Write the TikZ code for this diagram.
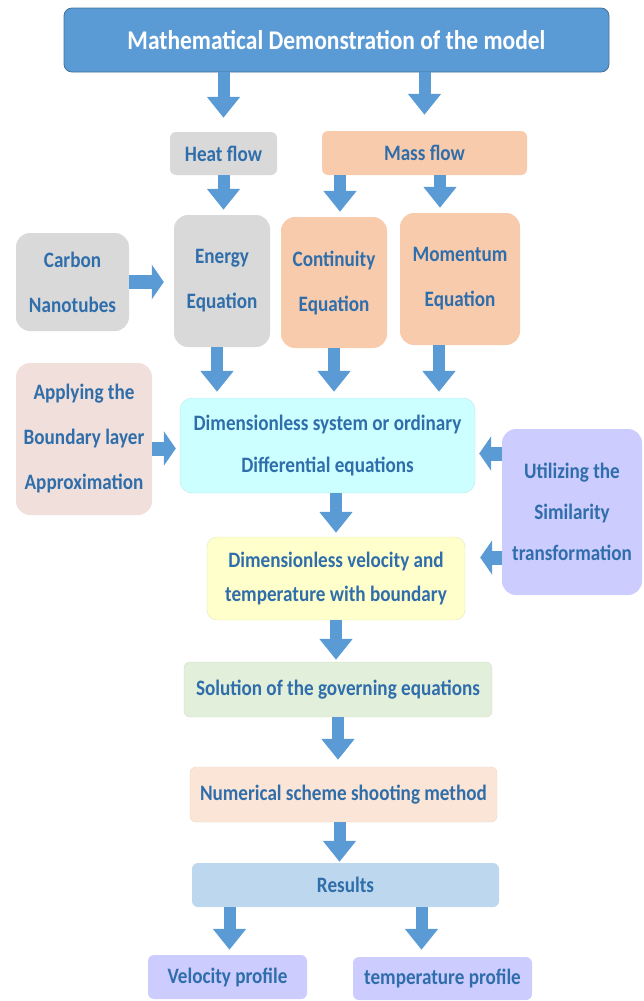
\documentclass[tikz,border=0pt]{standalone}
\usepackage{fontspec}
\setmainfont{Carlito}[FakeStretch=0.87]
\usepackage{tikz,xcolor}
\usetikzlibrary{arrows.meta}
\definecolor{txtblue}{HTML}{2F6EAA}
\definecolor{arrblue}{HTML}{5B9BD5}
\definecolor{topblue}{HTML}{5B9BD5}
\definecolor{topline}{HTML}{41719C}
\definecolor{grey}{HTML}{D9D9D9}
\definecolor{peach}{HTML}{F8CBAD}
\definecolor{rose}{HTML}{F0DFDA}
\definecolor{cyanish}{HTML}{CCFFFF}
\definecolor{lavender}{HTML}{CCCCFF}
\definecolor{lemon}{HTML}{FFFFCC}
\definecolor{mint}{HTML}{E2EFDA}
\definecolor{apricot}{HTML}{FBE5D6}
\definecolor{sky}{HTML}{BDD7EE}
\tikzstyle{box} = [rounded corners=6pt, text=txtblue, align=center, inner sep=0pt,
    font=\bfseries\fontsize{22}{26}\selectfont]
\tikzstyle{tall} = [rounded corners=14pt, font=\bfseries\fontsize{22}{45}\selectfont]
\tikzstyle{dnarrow} = [line width=12pt, arrblue, -{Triangle[width=32pt,length=21pt]}]
\tikzstyle{sdarrow} = [line width=14pt, arrblue, -{Triangle[width=34pt,length=12pt]}]

\begin{document}
\begin{tikzpicture}[x=1pt, y=-1pt]
\useasboundingbox (0,0) rectangle (643,1001);
\node[box, fill=topblue, draw=topline, line width=0.8pt, rounded corners=8pt, text=white,
    font=\bfseries\fontsize{27}{30}\selectfont, minimum width=545pt, minimum height=64pt]
    (title) at (336.5,40) {Mathematical Demonstration of the model};
\node[box, fill=grey, minimum width=107pt, minimum height=43pt] (heat) at (223.5,153.5) {Heat flow};
\node[box, fill=peach, minimum width=205pt, minimum height=44pt] (mass) at (424.5,153) {Mass flow};
\node[box, tall, fill=grey, minimum width=113pt, minimum height=98pt] (carbon) at (72.5,282)
    {Carbon\\Nanotubes};
\node[box, tall, fill=grey, minimum width=96pt, minimum height=132pt] (energy) at (222,281)
    {Energy\\Equation};
\node[box, tall, fill=peach, minimum width=106pt, minimum height=131pt] (cont) at (334,282.5)
    {Continuity\\Equation};
\node[box, tall, fill=peach, minimum width=120pt, minimum height=132pt] (mom) at (460,279)
    {Momentum\\Equation};
\node[box, tall, fill=rose, minimum width=136pt, minimum height=152pt] (apply) at (84,439)
    {Applying the\\Boundary layer\\Approximation};
\node[box, fill=cyanish, draw=cyanish!80!gray, rounded corners=12pt,
    font=\bfseries\fontsize{22}{42}\selectfont, minimum width=295pt, minimum height=95pt]
    (dimsys) at (327.5,445.5) {Dimensionless system or ordinary\\Differential equations};
\node[box, tall, fill=lavender, font=\bfseries\fontsize{22}{41}\selectfont,
    minimum width=140pt, minimum height=166pt] (util) at (572,512)
    {Utilizing the\\Similarity\\transformation};
\node[box, fill=lemon, draw=lemon!80!gray, rounded corners=10pt,
    font=\bfseries\fontsize{22}{34}\selectfont, minimum width=258pt, minimum height=83pt]
    (dimvel) at (336,578.5) {Dimensionless velocity and\\temperature with boundary};
\node[box, fill=mint, draw=mint!85!gray, minimum width=308pt, minimum height=55pt] (sol)
    at (338,689.5) {Solution of the governing equations};
\node[box, fill=apricot, draw=apricot!85!gray, minimum width=307pt, minimum height=55pt] (num)
    at (343.5,794.5) {Numerical scheme shooting method};
\node[box, fill=sky, minimum width=307pt, minimum height=44pt] (res) at (345.5,885) {Results};
\node[box, fill=lavender, minimum width=159pt, minimum height=44pt] (vel) at (227.5,977)
    {Velocity profile};
\node[box, fill=lavender, minimum width=179pt, minimum height=43pt] (temp) at (442.5,978.5)
    {temperature profile};

\draw[dnarrow, shorten >=14pt] (title.south -| heat) -- (heat.north);
\draw[dnarrow, shorten >=16pt] (title.south -| mass) -- (mass.north);
\draw[dnarrow, shorten >=5pt] (heat.south) -- (heat.south |- energy.north);
\draw[dnarrow, shorten >=5pt] ([xshift=6pt]cont.north |- mass.south) -- ([xshift=6pt]cont.north);
\draw[dnarrow, shorten >=5pt] ([xshift=-20pt]mom.north |- mass.south) -- ([xshift=-20pt]mom.north);
\draw[sdarrow, shorten >=10pt] (carbon.east) -- (carbon.east -| energy.west);
\draw[dnarrow, shorten >=6pt] ([xshift=-5pt]energy.south) -- ([xshift=-5pt]energy.south |- dimsys.north);
\draw[dnarrow, shorten >=6pt] (cont.south) -- (cont.south |- dimsys.north);
\draw[dnarrow, shorten >=6pt] ([xshift=-21pt]mom.south) -- ([xshift=-21pt]mom.south |- dimsys.north);
\draw[sdarrow, shorten >=4pt] ([yshift=-3pt]apply.east |- dimsys) -- ([yshift=-3pt]dimsys.west);
\draw[sdarrow, shorten >=4pt] ([yshift=-8pt]dimsys.east -| util.west) -- ([yshift=-8pt]dimsys.east);
\draw[sdarrow, shorten >=15pt] ([yshift=21pt]dimvel.east -| util.west) -- ([yshift=21pt]dimvel.east);
\draw[dnarrow, shorten >=4pt] (dimvel.north |- dimsys.south) -- (dimvel.north);
\draw[dnarrow, shorten >=2pt] (dimvel.south) -- (dimvel.south |- sol.north);
\draw[dnarrow, shorten >=7pt] (sol.south) -- (sol.south |- num.north);
\draw[dnarrow, shorten >=1pt] ([xshift=-4pt]num.south) -- ([xshift=-4pt]num.south |- res.north);
\draw[dnarrow, shorten >=5pt] ([xshift=2pt]vel.north |- res.south) -- ([xshift=2pt]vel.north);
\draw[dnarrow, shorten >=7pt] ([xshift=-21pt]temp.north |- res.south) -- ([xshift=-21pt]temp.north);
\end{tikzpicture}
\end{document}
